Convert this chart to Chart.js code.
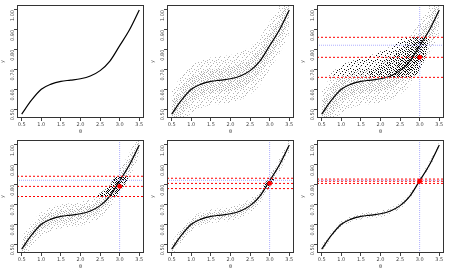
<!DOCTYPE html>
<html><head><meta charset="utf-8">
<script src="https://cdn.jsdelivr.net/npm/chart.js@4/dist/chart.umd.min.js"></script>
<style>
html,body{margin:0;padding:0;background:#fff;}
#wrap{position:relative;width:450px;height:270px;}
#wrap canvas{position:absolute;}
</style></head>
<body><div id="wrap"></div>
<script>
// ---- data ----
const xTicks = [0.5,1.0,1.5,2.0,2.5,3.0,3.5];
const yTicks = [0.5,0.6,0.7,0.8,0.9,1.0];
const theta  = [0.5,0.75,1.0,1.25,1.5,1.75,2.0,2.25,2.5,2.75,3.0,3.25,3.5];
const curveY = [0.475,0.545,0.60,0.626,0.64,0.646,0.653,0.667,0.694,0.742,0.82,0.90,1.0];
// half-width of the simulated cloud per panel (outer sparse / inner dense)
const cloudOuter = [null,0.12,0.12,0.06,0.035,0.016];
const cloudInner = [null,0.06,0.06,0.03,0.018,0.008];
// observed value and tolerance per panel
const obsY    = [null,null,0.761,0.791,0.806,0.817];
const epsilon = [null,null,0.101,0.051,0.026,0.011];
const thetaObs = 3.0;
const trueY = 0.822;
// accepted (black) regions per panel
const acc3Theta = [0.68,0.8,1.0,1.25,1.5,1.75,2.0,2.25,2.5,2.65,2.85,3.0,3.1,3.2,3.26];
const acc3Lo    = [0.66,0.66,0.66,0.66,0.66,0.66,0.66,0.66,0.66,0.66,0.66,0.70,0.74,0.80,0.85];
const acc3Hi    = [0.665,0.69,0.72,0.74,0.755,0.77,0.79,0.815,0.85,0.862,0.862,0.862,0.862,0.862,0.862];
const acc3MidTheta = [1.7,2.0,2.3,2.6,2.85,3.0,3.12,3.2];
const acc3MidLo    = [0.66,0.66,0.66,0.66,0.66,0.70,0.75,0.81];
const acc3MidHi    = [0.69,0.72,0.77,0.83,0.862,0.862,0.862,0.862];
const acc3InTheta = [2.3,2.5,2.75,2.9,3.05,3.15];
const acc3InLo    = [0.66,0.66,0.68,0.72,0.77,0.82];
const acc3InHi    = [0.69,0.74,0.80,0.85,0.862,0.862];
const acc4Theta = [2.42,2.6,2.75,2.9,3.0,3.1,3.22];
const acc4Lo    = [0.741,0.741,0.741,0.741,0.765,0.79,0.835];
const acc4Hi    = [0.745,0.77,0.797,0.842,0.842,0.842,0.842];
const acc5Theta = [2.84,2.9,2.95,3.0,3.05,3.12];
const acc5Lo    = [0.781,0.781,0.781,0.79,0.805,0.825];
const acc5Hi    = [0.79,0.81,0.83,0.832,0.832,0.832];
const acc6Theta = [2.94,2.97,3.0,3.03,3.06];
const acc6Lo    = [0.806,0.806,0.806,0.81,0.822];
const acc6Hi    = [0.81,0.82,0.827,0.827,0.827];
const accRegions = [null,null,
  [[acc3Theta,acc3Lo,acc3Hi],[acc3MidTheta,acc3MidLo,acc3MidHi],[acc3InTheta,acc3InLo,acc3InHi]],
  [[acc4Theta,acc4Lo,acc4Hi]],
  [[acc5Theta,acc5Lo,acc5Hi]],
  [[acc6Theta,acc6Lo,acc6Hi]]];

// ---- styling helpers ----
function speckle(color, pts, size){
  const c=document.createElement('canvas'); c.width=size; c.height=size;
  const g=c.getContext('2d'); g.fillStyle=color;
  pts.forEach(p=>g.fillRect(p[0],p[1],1,1));
  return g.createPattern(c,'repeat');
}
const dotsA=[[0,0],[4,1],[7,2],[2,3],[5,5],[8,6],[1,7],[6,8],[3,6]];
const dotsB=[[2,0],[6,0],[0,2],[5,2],[3,4],[7,4],[1,5],[4,7],[8,8],[6,6],[0,4],[8,1]];
const dotsC=[[1,1],[3,2],[7,7],[5,8],[2,6],[8,3]];
const grayOuter = speckle('#b4b4b4', dotsA.concat([[3,8],[6,3]]), 9);
const grayInner = speckle('#ababab', dotsB, 9);
const blackStyles = [speckle('#111', dotsA, 9), speckle('#0a0a0a', dotsB, 9), speckle('#000', dotsC.concat([[4,4],[0,6]]), 9)];
const blackFull = speckle('#000', dotsA.concat(dotsB).concat(dotsC), 9);

const boxPlugin = {id:'box', afterDraw(ch){
  const a=ch.chartArea, c=ch.ctx; c.save(); c.strokeStyle='#333'; c.lineWidth=1;
  c.strokeRect(Math.round(a.left)+0.5, Math.round(a.top)+0.5, Math.round(a.right-a.left)-1, Math.round(a.bottom-a.top)-1);
  c.restore();
}};

const XMIN=0.38, XMAX=3.62, YMIN=0.455, YMAX=1.025;
const tickFont={family:'DejaVu Sans', size:5};

function makePanel(k){
  const cv=document.createElement('canvas');
  cv.width=150; cv.height=135;
  cv.style.left=(150*(k%3))+'px'; cv.style.top=(135*Math.floor(k/3))+'px';
  document.getElementById('wrap').appendChild(cv);
  const ds=[];
  const pts=(xs,ys)=>xs.map((x,i)=>({x:x,y:ys[i]}));
  function band(xs,lo,hi,bg,order){
    const i=ds.length;
    ds.push({data:pts(xs,lo),borderWidth:0,pointRadius:0,fill:false,order:order,tension:0.3});
    ds.push({data:pts(xs,hi),borderWidth:0,pointRadius:0,fill:i,backgroundColor:bg,order:order,tension:0.3});
  }
  if(cloudOuter[k]){
    const so=cloudOuter[k], si=cloudInner[k];
    band(theta, curveY.map(v=>v-so), curveY.map(v=>v+so), grayOuter, 20);
    band(theta, curveY.map(v=>v-si), curveY.map(v=>v+si), grayInner, 19);
  }
  if(accRegions[k]){
    const regs=accRegions[k];
    regs.forEach((r,j)=>band(r[0],r[1],r[2], regs.length===1?blackFull:blackStyles[j], 15-j));
  }
  ds.push({data:pts(theta,curveY),borderColor:'#000',borderWidth:1.2,pointRadius:0,fill:false,
           cubicInterpolationMode:'monotone',order:10});
  if(obsY[k]!=null){
    const o=obsY[k], e=epsilon[k];
    [o+e,o,o-e].forEach(v=>ds.push({data:[{x:XMIN,y:v},{x:XMAX,y:v}],borderColor:'#ff0000',borderWidth:1,
      borderDash:[2,2],pointRadius:0,fill:false,order:4}));
    ds.push({data:[{x:XMIN,y:trueY},{x:XMAX,y:trueY}],borderColor:'#9a9aff',borderWidth:0.8,borderDash:[1,1],pointRadius:0,fill:false,order:5});
    ds.push({data:[{x:thetaObs,y:YMIN},{x:thetaObs,y:YMAX}],borderColor:'#9a9aff',borderWidth:0.8,borderDash:[1,1],pointRadius:0,fill:false,order:5});
    ds.push({data:[{x:thetaObs,y:o}],showLine:false,pointRadius:2.4,pointBackgroundColor:'#ff0000',pointBorderWidth:0,order:1});
  }
  new Chart(cv,{type:'line',data:{datasets:ds},plugins:[boxPlugin],
    options:{responsive:false,animation:false,devicePixelRatio:1,
      layout:{padding:{left:0,right:6,top:5,bottom:0}},
      plugins:{legend:{display:false},tooltip:{enabled:false}},
      scales:{
        x:{type:'linear',min:XMIN,max:XMAX,
           afterBuildTicks:s=>{s.ticks=xTicks.map(v=>({value:v}));},
           afterFit:s=>{s.height=17;},
           ticks:{font:tickFont,color:'#444',padding:1,maxRotation:0,callback:v=>v.toFixed(1)},
           grid:{drawOnChartArea:false,tickLength:3,color:'#444'},border:{display:false},
           title:{display:true,text:'θ',font:tickFont,color:'#444',padding:0}},
        y:{type:'linear',min:YMIN,max:YMAX,
           afterBuildTicks:s=>{s.ticks=yTicks.map(v=>({value:v}));},
           afterFit:s=>{s.width=17;},
           ticks:{font:tickFont,color:'#444',padding:1,minRotation:90,maxRotation:90,callback:v=>v.toFixed(2)},
           grid:{drawOnChartArea:false,tickLength:3,color:'#444'},border:{display:false},
           title:{display:true,text:'y',font:tickFont,color:'#444',padding:0}}
      }}});
}
for(let k=0;k<6;k++) makePanel(k);
</script></body></html>
